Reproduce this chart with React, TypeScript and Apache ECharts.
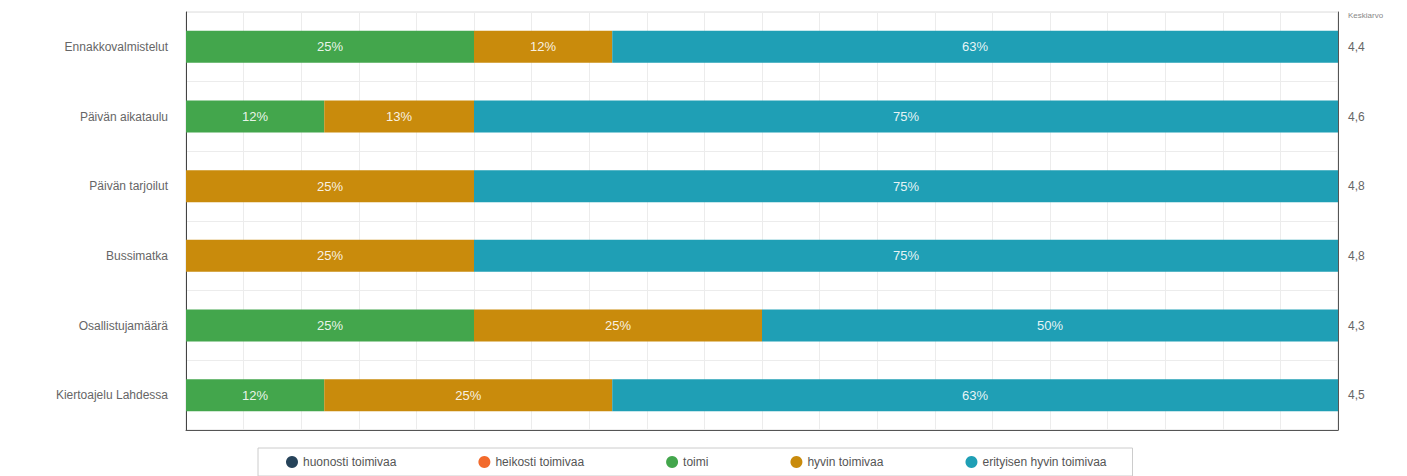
import React, { useEffect, useRef } from "react";
import * as echarts from "echarts";

const categories = [
  "Ennakkovalmistelut",
  "Päivän aikataulu",
  "Päivän tarjoilut",
  "Bussimatka",
  "Osallistujamäärä",
  "Kiertoajelu Lahdessa",
];
const averages = ["4,4", "4,6", "4,8", "4,8", "4,3", "4,5"];
const seriesNames = [
  "huonosti toimivaa",
  "heikosti toimivaa",
  "toimi",
  "hyvin toimivaa",
  "erityisen hyvin toimivaa",
];
const huonosti = [0, 0, 0, 0, 0, 0];
const heikosti = [0, 0, 0, 0, 0, 0];
const toimi = [25, 12, 0, 0, 25, 12];
const hyvin = [12, 13, 25, 25, 25, 25];
const erityisen = [63, 75, 75, 75, 50, 63];
const colors = ["#26435a", "#f26a2c", "#43a64c", "#c98b0c", "#1f9fb5"];

export default function App() {
  const ref = useRef<HTMLDivElement>(null);
  useEffect(() => {
    if (!ref.current) return;
    const chart = echarts.init(ref.current, undefined, { renderer: "svg" });
    const font = "'Liberation Sans', Arial, sans-serif";
    const values = [huonosti, heikosti, toimi, hyvin, erityisen];
    chart.setOption({
      animation: false,
      textStyle: { fontFamily: font },
      grid: {
        left: 186,
        right: 69,
        top: 12,
        bottom: 46,
        show: true,
        borderColor: "#dddddd",
        borderWidth: 1,
      },
      legend: {
        left: 258,
        top: 448,
        itemGap: 82,
        icon: "circle",
        itemWidth: 12,
        itemHeight: 12,
        borderColor: "#cccccc",
        borderWidth: 1,
        padding: [8, 26, 8, 28],
        textStyle: { fontSize: 12, color: "#555", fontFamily: font },
        data: seriesNames,
      },
      xAxis: {
        type: "value",
        min: 0,
        max: 100,
        interval: 5,
        axisLabel: { show: false },
        axisTick: { show: false },
        axisLine: { show: true, lineStyle: { color: "#555", width: 1 } },
        splitLine: { show: true, lineStyle: { color: "#ececec" } },
      },
      yAxis: [
        {
          type: "category",
          data: categories,
          inverse: true,
          axisTick: { show: false },
          axisLine: { show: true, lineStyle: { color: "#444" } },
          axisLabel: { color: "#666", fontSize: 12, margin: 18, fontFamily: font },
          splitLine: { show: true, lineStyle: { color: "#ececec" } },
        },
        {
          type: "category",
          data: averages,
          inverse: true,
          position: "right",
          axisTick: { show: false },
          axisLine: { show: true, lineStyle: { color: "#555" } },
          axisLabel: { color: "#666", fontSize: 12, margin: 10, align: "left", fontFamily: font },
        },
      ],
      graphic: [
        {
          type: "text",
          left: 1348,
          top: 11,
          style: { text: "Keskiarvo", fill: "#888", fontSize: 8, fontFamily: font },
        },
      ],
      series: seriesNames.map((name, i) => ({
        name,
        type: "bar",
        stack: "total",
        barWidth: 32,
        yAxisIndex: 0,
        itemStyle: { color: colors[i] },
        label: {
          show: true,
          position: "inside",
          color: "rgba(255,255,255,0.9)",
          fontSize: 13,
          fontFamily: font,
          formatter: (p: any) => (p.value > 0 ? p.value + "%" : ""),
        },
        data: values[i],
      })),
    });
    return () => chart.dispose();
  }, []);
  return <div ref={ref} style={{ width: 1407, height: 476, position: "absolute", left: 0, top: 0 }} />;
}
